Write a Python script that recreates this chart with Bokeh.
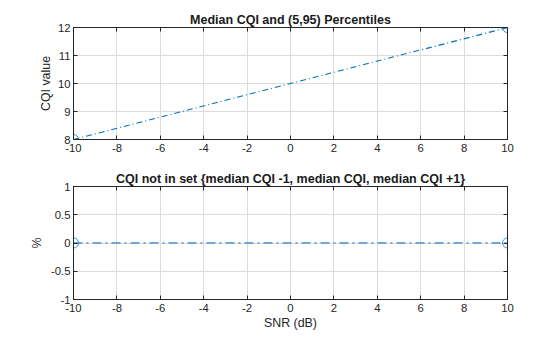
from bokeh.plotting import figure
from bokeh.layouts import column
from bokeh.models import LinearAxis, FixedTicker, Range1d
from bokeh.embed import file_html
from bokeh.resources import INLINE

snr = [-10, 10]
median_cqi = [8, 12]
pct_not_in_set = [0, 0]

x_ticks = [-10, -8, -6, -4, -2, 0, 2, 4, 6, 8, 10]
x_labels = ["-10", "-8", "-6", "-4", "-2", "0", "2", "4", "6", "8", "10"]
y1_ticks = [8, 9, 10, 11, 12]
y1_labels = ["8", "9", "10", "11", "12"]
y2_ticks = [-1, -0.5, 0, 0.5, 1]
y2_labels = ["-1", "-0.5", "0", "0.5", "1"]

FONT = "Liberation Sans"
BLUE = "#0072BD"
DARK = "#262626"


def style_axis(ax, ticks, labels=None):
    ax.ticker = FixedTicker(ticks=ticks)
    ax.axis_line_color = DARK
    ax.axis_line_width = 1
    ax.major_tick_in = 4
    ax.major_tick_out = 0
    ax.minor_tick_in = 0
    ax.minor_tick_out = 0
    ax.major_tick_line_color = DARK
    ax.major_label_text_font = FONT
    ax.major_label_text_font_size = "11.3px"
    ax.major_label_text_color = DARK
    ax.axis_label_text_font = FONT
    ax.axis_label_text_font_size = "12.4px"
    ax.axis_label_text_font_style = "normal"
    ax.axis_label_text_color = DARK
    if labels is None:
        ax.major_label_overrides = {t: "" for t in ticks}
        ax.major_label_standoff = 0
    else:
        ax.major_label_overrides = {t: l for t, l in zip(ticks, labels)}


def make_fig(title, height, yr, yticks, ylabels, border_top, border_bottom, ylabel,
             ylabel_standoff, xlabel=None):
    p = figure(width=560, height=height, output_backend="svg", toolbar_location=None,
               x_range=Range1d(-10, 10), y_range=Range1d(*yr),
               min_border_left=73, min_border_right=53,
               min_border_top=border_top, min_border_bottom=border_bottom)
    p.title.text = title
    p.title.align = "center"
    p.title.text_font = FONT
    p.title.text_font_size = "12.5px"
    p.title.text_font_style = "bold"
    p.title.text_color = "#1a1a1a"
    p.title.standoff = 2
    p.outline_line_color = DARK
    p.outline_line_width = 1
    style_axis(p.xaxis[0], x_ticks, x_labels)
    style_axis(p.yaxis[0], yticks, ylabels)
    p.xaxis.major_label_standoff = 4
    p.yaxis.major_label_standoff = 3
    p.yaxis.axis_label = ylabel
    p.yaxis.axis_label_standoff = ylabel_standoff
    if xlabel:
        p.xaxis.axis_label = xlabel
        p.xaxis.axis_label_standoff = 1
    right = LinearAxis()
    style_axis(right, yticks)
    p.add_layout(right, "right")
    top = LinearAxis()
    style_axis(top, x_ticks)
    p.add_layout(top, "above")
    p.xgrid.grid_line_color = "#dcdcdc"
    p.ygrid.grid_line_color = "#dcdcdc"
    p.xgrid.ticker = FixedTicker(ticks=x_ticks)
    p.ygrid.ticker = FixedTicker(ticks=yticks)
    p.background_fill_color = "white"
    p.border_fill_color = "white"
    return p


p1 = make_fig("Median CQI and (5,95) Percentiles", 168, (8, 12), y1_ticks, y1_labels,
              27, 29, "CQI value", 2)
p1.line(snr, median_cqi, line_color=BLUE, line_width=1.2, line_dash="6 3 1 3")
p1.scatter(snr, median_cqi, marker="circle", size=10, fill_color=None,
           line_color="#3f8fd2", line_width=1)

p2 = make_fig("CQI not in set {median CQI -1, median CQI, median CQI +1}", 169, (-1, 1),
              y2_ticks, y2_labels, 18, 38, "%", 4, "SNR (dB)")
p2.line(snr, pct_not_in_set, line_color="#6fa7d8", line_width=2, line_dash="9 4 2 4")
p2.scatter(snr, pct_not_in_set, marker="circle", size=10, fill_color=None,
           line_color="#3f8fd2", line_width=1)

layout = column(p1, p2, spacing=0)
open("out.html", "w").write(file_html(layout, INLINE))
